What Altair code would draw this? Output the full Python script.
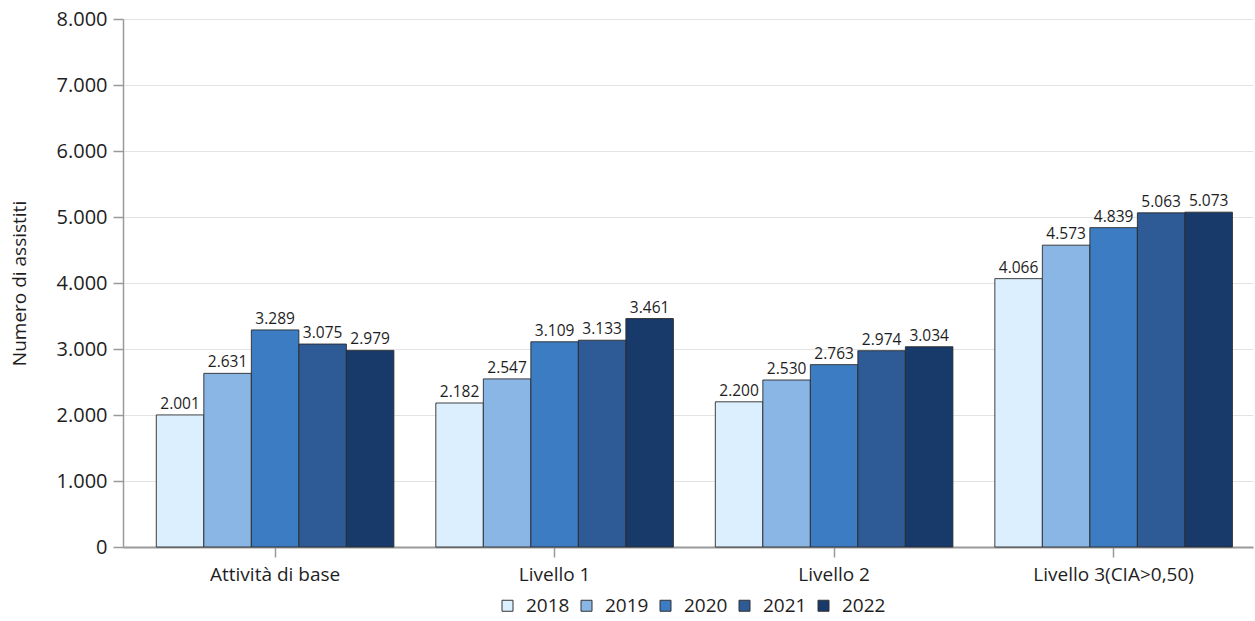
import altair as alt
import pandas as pd

# Assisted people by care level and year
categories = ["Attività di base", "Livello 1", "Livello 2", "Livello 3(CIA>0,50)"]
years = ["2018", "2019", "2020", "2021", "2022"]
values_2018 = [2001, 2182, 2200, 4066]
values_2019 = [2631, 2547, 2530, 4573]
values_2020 = [3289, 3109, 2763, 4839]
values_2021 = [3075, 3133, 2974, 5063]
values_2022 = [2979, 3461, 3034, 5073]
colors = ["#dcefff", "#8ab6e6", "#3b7cc3", "#2e5a95", "#173a6b"]
y_ticks = [0, 1000, 2000, 3000, 4000, 5000, 6000, 7000, 8000]

series = [values_2018, values_2019, values_2020, values_2021, values_2022]
rows = []
for year, vals in zip(years, series):
    for cat, v in zip(categories, vals):
        rows.append({"categoria": cat, "anno": year, "valore": v})
df = pd.DataFrame(rows)

FONT = "Open Sans"
TEXT = "#1e1e1e"

x_enc = alt.X(
    "categoria:N",
    sort=categories,
    scale=alt.Scale(paddingInner=0.15, paddingOuter=0.0964, align=0.618),
    axis=alt.Axis(
        title=None, labelAngle=0, tickSize=10, tickColor="#9a9a9a", tickWidth=1.5,
        domainColor="#9a9a9a", domainWidth=2, grid=False,
        labelFontSize=19, labelFont=FONT, labelColor=TEXT, labelPadding=8,
    ),
)
xo_enc = alt.XOffset("anno:N", sort=years, scale=alt.Scale(paddingInner=0, paddingOuter=0))
y_enc = alt.Y(
    "valore:Q",
    scale=alt.Scale(domain=[0, 8000], nice=False),
    axis=alt.Axis(
        values=y_ticks, format=",d", tickSize=10, tickColor="#9a9a9a", tickWidth=1.5,
        domainColor="#9a9a9a", domainWidth=1.5, grid=True, gridColor="#e3e3e3",
        labelFontSize=20, labelFont=FONT, labelColor=TEXT, labelPadding=6,
        title="Numero di assistiti", titleFont=FONT, titleFontSize=19,
        titleFontWeight="normal", titleColor=TEXT, titleAngle=270,
        titleBaseline="middle", titleAlign="center", titleX=-104, titleY=264,
    ),
)

bars = alt.Chart(df).mark_bar(stroke="#2b2b2b", strokeWidth=1, strokeOpacity=0.9).encode(
    x=x_enc,
    xOffset=xo_enc,
    y=y_enc,
    color=alt.Color(
        "anno:N",
        sort=years,
        scale=alt.Scale(domain=years, range=colors),
        legend=alt.Legend(
            title=None, orient="none", direction="horizontal",
            legendX=375, legendY=577,
            symbolType="square", symbolSize=121, symbolStrokeColor="#333333",
            symbolStrokeWidth=1, symbolOpacity=1,
            labelFontSize=19, labelFont=FONT, labelColor=TEXT,
            labelOffset=9, columnPadding=7,
        ),
    ),
)

labels = alt.Chart(df).mark_text(
    baseline="bottom", dy=-3, fontSize=15.5, font=FONT, color=TEXT
).encode(
    x=alt.X("categoria:N", sort=categories),
    xOffset=alt.XOffset("anno:N", sort=years),
    y=alt.Y("valore:Q"),
    text=alt.Text("valore:Q", format=",d"),
)

chart = (
    alt.layer(bars, labels)
    .properties(
        width=1130,
        height=528,
        autosize=alt.AutoSizeParams(type="none"),
        padding={"left": 123, "top": 19, "right": 2, "bottom": 74},
    )
    .configure(
        locale={"number": {"decimal": ",", "thousands": ".", "grouping": [3], "currency": ["€", ""]}}
    )
    .configure_view(stroke=None)
)

chart.save("out.html", embed_options={"renderer": "svg", "actions": False})
